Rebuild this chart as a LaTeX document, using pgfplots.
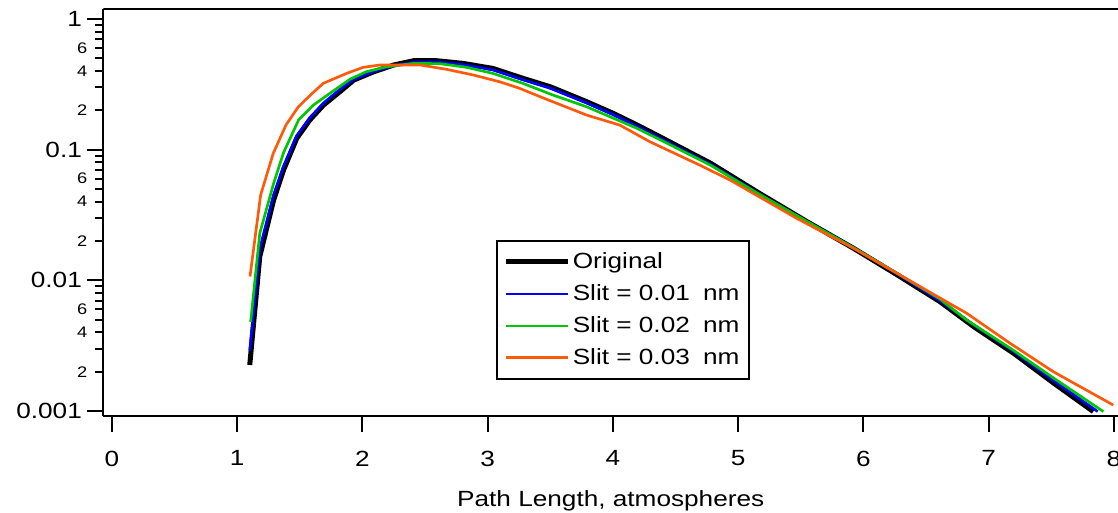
\documentclass[border=0pt]{standalone}
\usepackage{fontspec}
\setmainfont{Liberation Sans}[FakeStretch=1.19]
\usepackage{pgfplots}
\pgfplotsset{compat=1.18}
\definecolor{cblue}{RGB}{0,0,255}
\definecolor{cgreen}{RGB}{0,200,0}
\definecolor{corange}{RGB}{255,90,10}
\newcommand{\bigf}{\fontsize{16.5}{19}\selectfont}
\newcommand{\smallf}{\fontsize{11.5}{13}\selectfont}
\begin{document}
\begin{tikzpicture}
\begin{axis}[
  name=ax,
  scale only axis,
  width=760.9pt, height=305.6pt,
  ymode=log,
  xmin=-0.068, xmax=8.032,
  ymin=0.000915, ymax=1.203,
  axis x line*=bottom, axis y line*=left,
  axis line style={line width=1.5pt, black},
  tick align=outside,
  major tick length=12pt, minor tick length=6pt,
  every tick/.style={line width=1.5pt, black},
  xtick={0,1,2,3,4,5,6,7,8},
  minor xtick={},
  /pgf/number format/assume math mode=true,
  xticklabel style={font=\bigf, yshift=-10.5pt},
  ytick={0.001,0.01,0.1,1},
  yticklabels={0.001,0.01,0.1,1},
  yticklabel style={font=\bigf, inner sep=1pt, xshift=-3pt},
  minor ytick={0.002,0.003,0.004,0.005,0.006,0.007,0.008,0.009,0.02,0.03,0.04,0.05,0.06,0.07,0.08,0.09,0.2,0.3,0.4,0.5,0.6,0.7,0.8,0.9},
  extra y ticks={0.002,0.004,0.006,0.02,0.04,0.06,0.2,0.4,0.6},
  extra y tick labels={2,4,6,2,4,6,2,4,6},
  extra y tick style={major tick length=6pt, yticklabel style={font=\smallf, inner sep=1pt, xshift=-2pt}},
  xlabel={Path Length, atmospheres},
  xlabel style={font=\bigf, yshift=-11.5pt},
  legend cell align=left,
  legend style={at={(0.387,0.432)}, anchor=north west, draw=black, line width=1.5pt,
    font=\bigf, row sep=6.5pt, inner xsep=5pt, inner ysep=7pt},
  legend image code/.code={\draw[#1] (0pt,0pt) -- (39pt,0pt); \path (0pt,0pt) -- (46pt,0pt);},
]
\addplot[black, line width=3.75pt, line join=round] coordinates {
(1.10,0.00225)(1.18,0.0152)(1.29,0.041)(1.37,0.070)(1.475,0.122)(1.58,0.169)(1.69,0.220)(1.82,0.278)(1.93,0.341)(2.09,0.395)(2.25,0.445)(2.41,0.480)(2.59,0.480)(2.80,0.458)(3.04,0.419)(3.28,0.352)(3.50,0.303)(3.79,0.233)(4.00,0.190)(4.19,0.155)(4.40,0.122)(4.78,0.0787)(5.17,0.0463)(5.55,0.0281)(5.92,0.0176)(6.27,0.0110)(6.61,0.00687)(6.88,0.00442)(7.20,0.00276)(7.52,0.00163)(7.835,0.00099)
};
\addlegendentry{Original}
\addplot[cblue, line width=2pt, line join=round] coordinates {
(1.10,0.0029)(1.18,0.0175)(1.29,0.045)(1.37,0.075)(1.475,0.128)(1.58,0.176)(1.69,0.228)(1.82,0.290)(1.93,0.345)(2.09,0.398)(2.25,0.440)(2.41,0.468)(2.59,0.470)(2.80,0.448)(3.04,0.408)(3.28,0.343)(3.50,0.295)(3.79,0.228)(4.00,0.186)(4.19,0.151)(4.40,0.119)(4.78,0.0772)(5.17,0.0458)(5.55,0.0281)(5.92,0.0178)(6.27,0.0112)(6.61,0.0070)(6.88,0.00455)(7.20,0.00285)(7.52,0.00170)(7.87,0.00099)
};
\addlegendentry{Slit = 0.01\hspace{0.6em}nm}
\addplot[cgreen, line width=2pt, line join=round] coordinates {
(1.107,0.0048)(1.18,0.0229)(1.29,0.055)(1.37,0.095)(1.49,0.169)(1.61,0.220)(1.74,0.270)(1.90,0.346)(2.03,0.395)(2.19,0.430)(2.41,0.458)(2.62,0.455)(2.83,0.427)(3.04,0.384)(3.28,0.322)(3.52,0.262)(3.79,0.213)(4.19,0.146)(4.40,0.116)(4.78,0.0760)(5.17,0.0455)(5.55,0.0282)(5.92,0.0178)(6.27,0.0113)(6.61,0.0072)(6.82,0.0050)(7.20,0.0029)(7.52,0.00178)(7.915,0.00099)
};
\addlegendentry{Slit = 0.02\hspace{0.6em}nm}
\addplot[corange, line width=2pt, line join=round] coordinates {
(1.102,0.0107)(1.187,0.045)(1.288,0.094)(1.39,0.155)(1.488,0.213)(1.59,0.265)(1.687,0.322)(1.874,0.384)(2.006,0.427)(2.14,0.445)(2.46,0.445)(2.672,0.412)(2.885,0.373)(3.10,0.330)(3.25,0.296)(3.47,0.243)(3.79,0.184)(4.056,0.154)(4.295,0.115)(4.695,0.076)(4.934,0.0586)(5.467,0.0298)(5.92,0.0176)(6.29,0.0110)(6.823,0.0056)(7.17,0.0033)(7.515,0.0020)(7.994,0.00111)
};
\addlegendentry{Slit = 0.03\hspace{0.6em}nm}
\draw[line width=1.5pt, black] (rel axis cs:0,1) -- (rel axis cs:1,1);
\end{axis}
\pgfresetboundingbox
\path[use as bounding box] ([shift={(-77.6pt,-72pt)}]ax.south west) rectangle ([shift={(760.9pt,312pt)}]ax.south west);
\end{tikzpicture}
\end{document}
